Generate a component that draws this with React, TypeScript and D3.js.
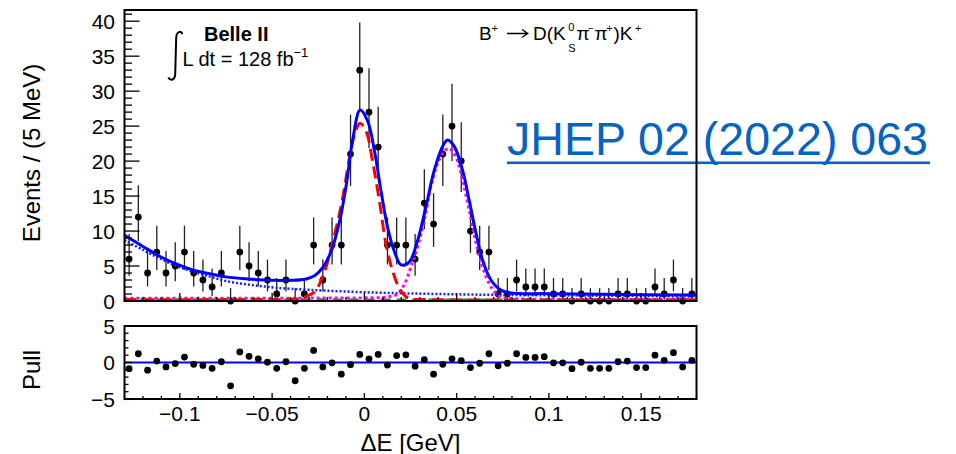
import React from 'react';
import * as d3 from 'd3';

// ---- Binning of the ΔE histogram (5 MeV bins) ----
const binLowEdge = -0.13;
const binWidth = 0.005;

// Events per bin
const counts = [
  6, 12, 4, 7, 4, 5, 7, 4, 3, 2,
  4, 0, 7, 5, 4, 3, 1, 3, 0, 1,
  8, 3, 8, 8, 21, 33, 27, 22, 8, 8,
  8, 6, 14, 11, 21, 25, 20, 10, 7, 7,
  1, 1, 3, 2, 2, 2, 1, 1, 0, 1,
  0, 0, 0, 1, 1, 0, 0, 2, 1, 3,
  0, 1,
];

// Pull per bin
const pulls = [
  -0.85, 1.2, -1.05, 0.2, -0.6, -0.15, 0.75, -0.25, -0.4, -0.8,
  0.1, -3.2, 1.45, 0.85, 0.5, 0.05, -0.8, 0.1, -2.5, -0.8,
  1.65, -0.6, -0.05, -1.6, -0.3, 1.1, 0.5, 1.1, -0.35, 0.95,
  1.05, -0.5, 0.4, -1.6, -0.25, 0.5, 0.25, -0.7, -0.1, 1.2,
  -0.45, -0.1, 1.2, 0.7, 0.7, 0.8, -0.05, -0.05, -0.85, 0.05,
  -0.8, -0.8, -0.8, 0.1, 0.2, -0.7, -0.7, 1.0, 0.3, 1.35,
  -0.6, 0.3,
];

// Central 68.3% Poisson intervals (down, up) for the observed counts
const poissonInterval: Record<number, [number, number]> = {
  0: [0, 1.841],
  1: [0.827, 2.3],
  2: [1.292, 2.638],
  3: [1.633, 2.918],
  4: [1.914, 3.162],
  5: [2.159, 3.382],
  6: [2.379, 3.583],
  7: [2.58, 3.77],
  8: [2.768, 3.945],
  10: [3.108, 4.266],
  11: [3.265, 4.416],
  12: [3.414, 4.559],
  14: [3.693, 4.828],
  20: [4.434, 5.546],
  21: [4.546, 5.655],
  22: [4.656, 5.762],
  25: [4.972, 6.07],
  27: [5.172, 6.266],
  33: [5.727, 6.812],
};

// ---- Fit projections, [ΔE (GeV), events / 5 MeV] ----
const totalFit: [number, number][] = [
  [-0.13, 9.4], [-0.12, 7.8], [-0.111, 6.4], [-0.102, 5.3], [-0.093, 4.45],
  [-0.084, 3.9], [-0.075, 3.45], [-0.066, 3.2], [-0.057, 3.05], [-0.048, 2.95],
  [-0.039, 2.95], [-0.0315, 3.15], [-0.027, 3.6], [-0.0225, 4.8], [-0.018, 7.1],
  [-0.0135, 11.3], [-0.0098, 16.6], [-0.0063, 23.1], [-0.0023, 27.3], [0.0018, 25.7],
  [0.0055, 21.4], [0.0091, 15.6], [0.0127, 10.4], [0.0163, 7.05], [0.0199, 5.15],
  [0.0244, 5.6], [0.0289, 8.7], [0.0334, 13.5], [0.0379, 18.7], [0.0424, 22.1],
  [0.0451, 23.0], [0.0487, 22.1], [0.0532, 18.7], [0.0568, 14.4], [0.0605, 9.7],
  [0.064, 5.9], [0.0686, 3.0], [0.074, 1.55], [0.0794, 1.15], [0.1, 1.05],
  [0.13, 0.95], [0.18, 0.85],
];

const combBkg: [number, number][] = [
  [-0.13, 8.7], [-0.12, 7.3], [-0.111, 6.1], [-0.102, 5.0], [-0.093, 4.2],
  [-0.084, 3.5], [-0.075, 2.85], [-0.066, 2.45], [-0.057, 2.15], [-0.048, 1.9],
  [-0.03, 1.6], [0.006, 1.2], [0.04, 1.0], [0.08, 0.85], [0.13, 0.75], [0.18, 0.65],
];

const signalDK: [number, number][] = [
  [-0.13, 0.2], [-0.06, 0.2], [-0.036, 0.3], [-0.032, 0.6], [-0.027, 1.3],
  [-0.0216, 4.2], [-0.0171, 8.5], [-0.0125, 13.7], [-0.0081, 20.4], [-0.0054, 23.7],
  [-0.0023, 25.4], [0.001, 24.2], [0.0045, 19.9], [0.0082, 14.2], [0.0118, 8.0],
  [0.0154, 4.2], [0.019, 1.8], [0.0226, 0.6], [0.026, 0.3], [0.035, 0.2], [0.18, 0.15],
];

const misIdDpi: [number, number][] = [
  [-0.13, 0.4], [-0.05, 0.4], [0.0, 0.45], [0.01, 0.5], [0.015, 0.7],
  [0.0181, 1.0], [0.0217, 2.4], [0.0253, 4.9], [0.0289, 7.8], [0.0325, 11.6],
  [0.0361, 16.4], [0.0397, 19.7], [0.0433, 21.4], [0.046, 21.8], [0.0496, 20.6],
  [0.0532, 17.3], [0.0568, 13.0], [0.0605, 8.3], [0.064, 4.9], [0.0676, 2.5],
  [0.0712, 1.1], [0.074, 0.55], [0.08, 0.35], [0.18, 0.25],
];

const otherBkg: [number, number][] = [
  [-0.13, 0.2], [0.02, 0.15], [0.18, 0.1],
];

const yTicksMain = [0, 5, 10, 15, 20, 25, 30, 35, 40];
const xTickLabels = [-0.1, -0.05, 0, 0.05, 0.1, 0.15];
const pullTickLabels = [-5, 0, 5];

// ---- Geometry ----
const W = 956;
const H = 454;
const frameL = 124.5;
const frameR = 696.5;
const mainTop = 10;
const mainBot = 301;
const pullTop = 326;
const pullBot = 399;

const FONT = "'Liberation Sans', Arial, Helvetica, sans-serif";

const fmt = (v: number) => {
  const s = String(Math.abs(v));
  return v < 0 ? '\u2212' + s : s;
};

export default function App() {
  const x = d3.scaleLinear().domain([-0.13, 0.18]).range([frameL, frameR]);
  const y = d3.scaleLinear().domain([0, 41.6]).range([mainBot, mainTop]);
  const yp = d3.scaleLinear().domain([-5, 5]).range([pullBot, pullTop]);

  const line = d3
    .line<[number, number]>()
    .x((d) => x(d[0]))
    .y((d) => y(d[1]))
    .curve(d3.curveCatmullRom.alpha(0.5));

  const centers = counts.map((_, i) => binLowEdge + (i + 0.5) * binWidth);

  const minorX = d3.range(-13, 19).map((k) => k / 100);
  const majorX = xTickLabels;
  const minorYMain = d3.range(0, 42);
  const minorPull = d3.range(-5, 6);

  return (
    <svg
      width={W}
      height={H}
      style={{ position: 'absolute', left: 0, top: 0, background: '#fff' }}
      fontFamily={FONT}
    >
      <defs>
        <clipPath id="mainClip">
          <rect x={frameL} y={mainTop} width={frameR - frameL} height={mainBot - mainTop + 1.5} />
        </clipPath>
      </defs>

      {/* ---------- upper panel: ΔE distribution ---------- */}
      {/* data points with Poisson error bars */}
      <g>
        {counts.map((n, i) => {
          const [lo, hi] = poissonInterval[n];
          return (
            <line
              key={'e' + i}
              x1={x(centers[i])}
              x2={x(centers[i])}
              y1={y(n - lo)}
              y2={y(n + hi)}
              stroke="#222"
              strokeWidth={1.3}
            />
          );
        })}
        {counts.map((n, i) => (
          <circle key={'p' + i} cx={x(centers[i])} cy={y(n)} r={3.4} fill="#000" />
        ))}
      </g>

      {/* fit components */}
      <g clipPath="url(#mainClip)" fill="none">
        <path d={line(combBkg) || ''} stroke="#1020ff" strokeWidth={2.5} strokeDasharray="2,2" />
        <path d={line(otherBkg) || ''} stroke="#119911" strokeWidth={3} strokeDasharray="10,6" />
        <path d={line(misIdDpi) || ''} stroke="#ff00ff" strokeWidth={3} strokeDasharray="3,3" />
        <path d={line(signalDK) || ''} stroke="#ff0000" strokeWidth={3} strokeDasharray="12,6" />
        <path d={line(totalFit) || ''} stroke="#0000ff" strokeWidth={3} />
      </g>

      {/* reference link */}
      <g>
        <text
          x={507}
          y={155}
          fontSize={46}
          fill="#0563c1"
          textLength={421}
          lengthAdjust="spacingAndGlyphs"
        >
          JHEP 02 (2022) 063
        </text>
        <rect x={507} y={161.5} width={423} height={2.6} fill="#0563c1" />
      </g>

      {/* frame */}
      <rect
        x={frameL}
        y={mainTop}
        width={frameR - frameL}
        height={mainBot - mainTop}
        fill="none"
        stroke="#000"
        strokeWidth={2}
      />

      {/* y axis ticks */}
      {minorYMain.map((v) => (
        <line
          key={'my' + v}
          x1={frameL}
          x2={frameL + (v % 5 === 0 ? 15 : 7.5)}
          y1={y(v)}
          y2={y(v)}
          stroke="#000"
          strokeWidth={1.3}
        />
      ))}
      {yTicksMain.map((v) => (
        <text key={'ly' + v} x={115} y={y(v) + 7.5} fontSize={21} textAnchor="end">
          {v}
        </text>
      ))}
      {/* x axis ticks, upper panel */}
      {minorX.map((v) => {
        const isMajor = majorX.some((m) => Math.abs(m - v) < 1e-9);
        return (
          <line
            key={'mx' + v}
            x1={x(v)}
            x2={x(v)}
            y1={mainBot}
            y2={mainBot - (isMajor ? 8 : 4)}
            stroke="#000"
            strokeWidth={1.3}
          />
        );
      })}

      {/* labels inside the upper panel */}
      <path
        d="M182.5 34 C181 30.5 176.5 31 176.2 38 L175.2 74 C175 80.5 170.5 81 168.2 77.5"
        fill="none"
        stroke="#000"
        strokeWidth={2}
      />
      <text x={204} y={40.5} fontSize={20} fontWeight="bold">
        Belle II
      </text>
      <text x={182.5} y={66} fontSize={20}>
        L dt = 128 fb
        <tspan fontSize={13} dy={-9}>
          {'\u22121'}
        </tspan>
      </text>

      <g fontSize={19}>
        <text x={479} y={40}>B</text>
        <text x={491.5} y={32} fontSize={11}>+</text>
        <path d="M507 33.5 H527.5 M522 29.5 L527.8 33.5 L522 37.5" fill="none" stroke="#000" strokeWidth={1.3} />
        <text x={533} y={40}>D(K</text>
        <text x={568.3} y={31} fontSize={11}>0</text>
        <text x={568.3} y={51.5} fontSize={11}>S</text>
        <text x={576.5} y={40}>π</text>
        <text x={588} y={32} fontSize={10}>−</text>
        <text x={594.5} y={40}>π</text>
        <text x={606.2} y={32} fontSize={11}>+</text>
        <text x={613.5} y={40}>)K</text>
        <text x={635} y={32} fontSize={11}>+</text>
      </g>

      {/* y title */}
      <text transform={`translate(40,153) rotate(-90)`} fontSize={24} textAnchor="middle">
        Events / (5 MeV)
      </text>

      {/* ---------- lower panel: pulls ---------- */}
      <line x1={frameL} x2={frameR} y1={yp(0)} y2={yp(0)} stroke="#0000ff" strokeWidth={2} />
      {pulls.map((p, i) => (
        <circle key={'pp' + i} cx={x(centers[i])} cy={yp(p)} r={3.4} fill="#000" />
      ))}
      <rect
        x={frameL}
        y={pullTop}
        width={frameR - frameL}
        height={pullBot - pullTop}
        fill="none"
        stroke="#000"
        strokeWidth={2}
      />
      {minorPull.map((v) => (
        <line
          key={'py' + v}
          x1={frameL}
          x2={frameL + (v % 5 === 0 ? 8 : 4)}
          y1={yp(v)}
          y2={yp(v)}
          stroke="#000"
          strokeWidth={1.3}
        />
      ))}
      {pullTickLabels.map((v) => (
        <text key={'lp' + v} x={115} y={yp(v) + 7.5} fontSize={21} textAnchor="end">
          {fmt(v)}
        </text>
      ))}
      {minorX.map((v) => {
        const isMajor = majorX.some((m) => Math.abs(m - v) < 1e-9);
        return (
          <line
            key={'px' + v}
            x1={x(v)}
            x2={x(v)}
            y1={pullBot}
            y2={pullBot - (isMajor ? 6 : 3)}
            stroke="#000"
            strokeWidth={1.3}
          />
        );
      })}
      {xTickLabels.map((v) => (
        <text key={'lx' + v} x={x(v)} y={420.5} fontSize={21} textAnchor="middle">
          {fmt(v)}
        </text>
      ))}
      <text transform={`translate(40,370) rotate(-90)`} fontSize={24} textAnchor="middle">
        Pull
      </text>
      <text x={(frameL + frameR) / 2} y={450.5} fontSize={24} textAnchor="middle">
        ΔE [GeV]
      </text>
    </svg>
  );
}
